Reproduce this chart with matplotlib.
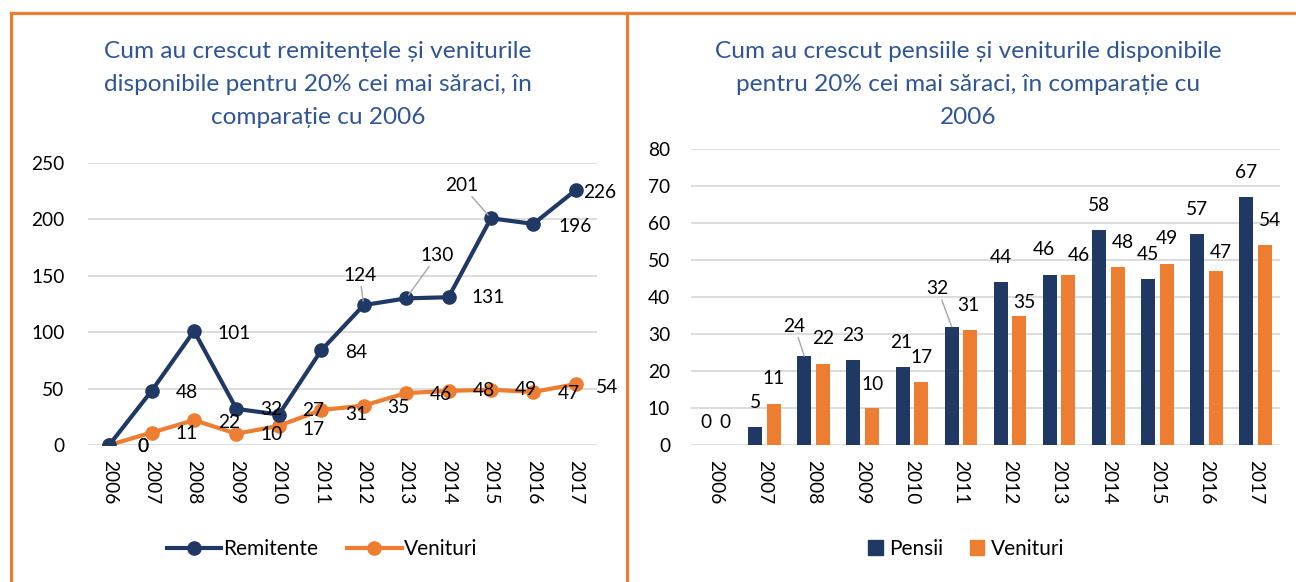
import numpy as np
import matplotlib
matplotlib.use("Agg")
import matplotlib.pyplot as plt
from matplotlib.lines import Line2D
from matplotlib.patches import Patch

plt.rcParams['font.family'] = ['Lato', 'DejaVu Sans']

years = ["2006", "2007", "2008", "2009", "2010", "2011",
         "2012", "2013", "2014", "2015", "2016", "2017"]
remitente = [0, 48, 101, 32, 27, 84, 124, 130, 131, 201, 196, 226]
venituri = [0, 11, 22, 10, 17, 31, 35, 46, 48, 49, 47, 54]
pensii = [0, 5, 24, 23, 21, 32, 44, 46, 58, 45, 57, 67]

title_left = ["Cum au crescut remitențele și veniturile",
              "disponibile pentru 20% cei mai săraci, în",
              "comparație cu 2006"]
title_right = ["Cum au crescut pensiile și veniturile disponibile",
               "pentru 20% cei mai săraci, în comparație cu",
               "2006"]

NAVY = "#203864"
ORANGE = "#ED7D31"
GRID = "#D9D9D9"
TITLE = "#2F5597"
LEADER = "#A6A6A6"
W, H = 1296, 582
FS = 13.8

fig = plt.figure(figsize=(W / 100, H / 100), dpi=100)


def fx(px):
    return px / W


def fy(py):
    return 1 - py / H


# orange frame
for xs, ys in [((11, 11), (13, H + 5)), ((11, W), (13, 13)), ((627, 627), (13, H + 5))]:
    fig.add_artist(Line2D([fx(x) for x in xs], [fy(y) for y in ys],
                          color=ORANGE, lw=2.3, transform=fig.transFigure))

# titles
for lines, cx in [(title_left, 318), (title_right, 968)]:
    for i, line in enumerate(lines):
        fig.text(fx(cx), fy(51 + i * 33.5), line, ha="center", va="center",
                 fontsize=17.6, color=TITLE, fontweight="normal")


def style_axes(ax, ymax, step, pad):
    x = np.arange(len(years))
    ax.set_xlim(-0.5, len(years) - 0.5)
    ax.set_ylim(0, ymax)
    ax.set_yticks(np.arange(0, ymax + 1, step))
    ax.set_xticks(x)
    ax.set_xticklabels(years, rotation=-90)
    ax.tick_params(length=0, labelsize=FS)
    ax.tick_params(axis="y", pad=pad)
    ax.tick_params(axis="x", pad=11)
    for s in ax.spines.values():
        s.set_visible(False)
    ax.grid(axis="y", color=GRID, lw=1.3)
    ax.set_axisbelow(True)
    return x


# ---- left: lines ----
axl = fig.add_axes([fx(88), fy(445), (597 - 88) / W, (445 - 163) / H])
x = style_axes(axl, 250, 50, 17)
axl.plot(x, venituri, color=ORANGE, lw=3, marker="o", ms=9.5, zorder=3)
axl.plot(x, remitente, color=NAVY, lw=3, marker="o", ms=9.5, zorder=4)

rem_off = [(34, 2), (35, 2), (40, 2), (35, 1), (34, -4), (35, 2),
           (-4, -30), (31, -43), (40, 0), (-29, -33), (42, 3), (24, 2)]
rem_lead = [False] * 6 + [True, True, False, True, False, False]
ven_off = [(34, 2), (35, 1), (35, 2), (35, 1), (35, 4), (35, 4),
           (35, 2), (35, 1), (35, 0), (35, 0), (35, 2), (31, 3)]

for xi, v, (dx, dy), lead in zip(x, remitente, rem_off, rem_lead):
    kw = {}
    if lead:
        kw["arrowprops"] = dict(arrowstyle="-", color=LEADER, lw=1, shrinkA=0, shrinkB=3)
    axl.annotate(str(v), (xi, v), xytext=(dx, -dy), textcoords="offset pixels",
                 ha="center", va="center", fontsize=FS, color="black", zorder=6, **kw)
for xi, v, (dx, dy) in zip(x, venituri, ven_off):
    axl.annotate(str(v), (xi, v), xytext=(dx, -dy), textcoords="offset pixels",
                 ha="center", va="center", fontsize=FS, color="black", zorder=6)

fig.legend(handles=[Line2D([], [], color=NAVY, lw=3, marker="o", ms=9.5),
                    Line2D([], [], color=ORANGE, lw=3, marker="o", ms=9.5)],
           labels=["Remitente", "Venituri"], loc="center",
           bbox_to_anchor=(fx(322), fy(549)), frameon=False, ncol=2,
           fontsize=15, handlelength=2.6, handletextpad=0.12, columnspacing=1.4)

# ---- right: bars ----
axr = fig.add_axes([fx(691), fy(445), (1280 - 691) / W, (445 - 149) / H])
x = style_axes(axr, 80, 10, 15)
bw, off = 0.285, 0.19
axr.bar(x - off, pensii, bw, color=NAVY, zorder=3)
axr.bar(x + off, venituri, bw, color=ORANGE, zorder=3)

pen_off = [(0, -23), (0, -24), (-10, -30), (0, -24), (-1, -25), (-14, -38),
           (0, -25), (-6, -25), (0, -25), (0, -24), (0, -25), (0, -25)]
pen_lead = [False, False, True, False, False, True] + [False] * 6
venb_off = [(0, -23), (0, -26), (0, -25), (0, -24), (0, -25), (-2, -25),
            (5, -13), (10, -19), (5, -25), (0, -25), (5, -19), (5, -25)]

for xi, v, (dx, dy), lead in zip(x - off, pensii, pen_off, pen_lead):
    kw = {}
    if lead:
        kw["arrowprops"] = dict(arrowstyle="-", color=LEADER, lw=1, shrinkA=0, shrinkB=0)
    axr.annotate(str(v), (xi, v), xytext=(dx, -dy), textcoords="offset pixels",
                 ha="center", va="center", fontsize=FS, color="black", **kw)
for xi, v, (dx, dy) in zip(x + off, venituri, venb_off):
    axr.annotate(str(v), (xi, v), xytext=(dx, -dy), textcoords="offset pixels",
                 ha="center", va="center", fontsize=FS, color="black")

fig.legend(handles=[Patch(color=NAVY), Patch(color=ORANGE)],
           labels=["Pensii", "Venituri"], loc="center",
           bbox_to_anchor=(fx(966), fy(549)), frameon=False, ncol=2,
           fontsize=15, handlelength=0.7, handleheight=0.7,
           handletextpad=0.3, columnspacing=1.3)

fig.savefig("out.png", dpi=100)
